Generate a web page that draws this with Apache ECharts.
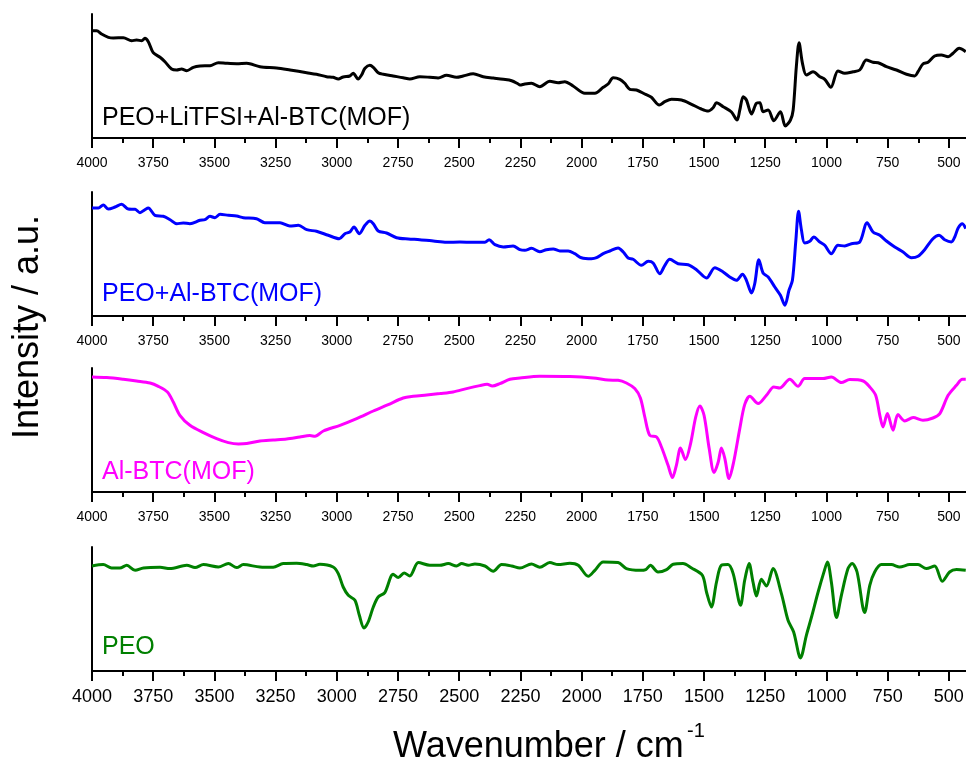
<!DOCTYPE html>
<html>
<head>
<meta charset="utf-8">
<script src="https://cdn.jsdelivr.net/npm/echarts@6/dist/echarts.min.js"></script>
<style>html,body{margin:0;padding:0;background:#fff;}#chart{width:966px;height:763px;}</style>
</head>
<body>
<div id="chart"></div>
<script>
const FONT = '"Liberation Sans", Arial, Helvetica, sans-serif';

// Tick labels (wavenumber, cm^-1)
const xTicks = [4000, 3750, 3500, 3250, 3000, 2750, 2500, 2250, 2000, 1750, 1500, 1250, 1000, 750, 500];
const xMinorTicks = [3875, 3625, 3375, 3125, 2875, 2625, 2375, 2125, 1875, 1625, 1375, 1125, 875, 625];

// Panel labels
const names = ['PEO+LiTFSI+Al-BTC(MOF)', 'PEO+Al-BTC(MOF)', 'Al-BTC(MOF)', 'PEO'];

// Spectra: [wavenumber, intensity (a.u.)]
const peoLiTFSIMOF = [[4000,107.3],[3981,107.3],[3961,104],[3933,100.7],[3913,100],[3872,100.3],[3838,97.3],[3818,98],[3797,97.3],[3784,99.7],[3770,96.3],[3750,85.3],[3722,80.7],[3702,76.3],[3675,69],[3654,68],[3634,69],[3613,67.3],[3586,70.7],[3559,72],[3518,72.3],[3484,75.3],[3450,74.7],[3409,74.3],[3368,74.7],[3314,71.3],[3246,70],[3191,68],[3123,65.3],[3083,63.7],[3042,61.3],[3015,60.7],[2994,59],[2974,61],[2947,62],[2933,64.7],[2913,59],[2899,63],[2885,69.7],[2865,72.7],[2851,70.7],[2831,65.3],[2810,63.7],[2770,62],[2729,60.3],[2702,59],[2661,61.3],[2620,60.7],[2586,60],[2552,62.7],[2511,60.7],[2484,62],[2443,64.3],[2402,61.3],[2361,60],[2320,58.7],[2286,57.3],[2259,54],
[2252,53],[2232,54],[2205,54.7],[2171,51.3],[2130,56.7],[2096,55.3],[2069,56.3],[2035,52],[1987,44.7],[1946,44.7],[1912,50.7],[1892,54],[1871,60.3],[1844,58.7],[1824,54.7],[1803,48.7],[1776,48],[1742,44],[1715,40.7],[1683,33],[1660,36.3],[1633,38.7],[1592,38],[1551,33.7],[1511,29],[1483,27],[1463,30.3],[1449,35.3],[1422,31.3],[1388,26],[1365,18],[1354,28],[1340,41.3],[1327,38],[1306,24],[1286,34.7],[1272,35.3],[1259,26.3],[1238,28],[1215,17.3],[1188,26.3],[1168,12],[1147,18],[1136,28],[1123,71.3],[1112,95.3],[1098,74.7],[1082,63],[1055,66.3],[1027,61.3],[1007,58.7],[982,50.7],[953,67],[925,64.7],[891,66.3],[864,68],[837,78],[810,75.7],[789,75.3],[755,71.3],[714,68],[673,63.7],[639,62],[626,66.3],[606,74],[585,75.7],[558,82],[531,83],[503,81.3],[483,84.7],[458,89.7],[431,86.3]];

const peoMOF = [[4000,108],[3974,108],[3954,111],[3933,107],[3906,109],[3879,111.7],[3852,107],[3824,106.7],[3804,103.3],[3784,106.3],[3770,108],[3743,100.7],[3709,99.7],[3681,96.3],[3654,92.3],[3627,93],[3600,92.3],[3559,95.7],[3539,96.3],[3518,99.7],[3498,98.3],[3477,101.7],[3443,100.7],[3409,100],[3382,98.3],[3328,97.3],[3294,93.3],[3232,93.3],[3192,90],[3157,90.7],[3123,86.3],[3083,84.7],[3035,80.7],[2990,77.3],[2967,82.3],[2947,84],[2930,89],[2908,82.3],[2885,90.7],[2865,95],[2851,92.3],[2831,85],[2797,83],[2756,78.3],[2708,77],[2661,76.3],[2606,75],[2552,73.7],[2497,74],[2443,73.7],[2395,73.7],[2378,76.3],[2354,71.3],[2320,69],[2280,70],
[2252,66.3],[2232,65.7],[2205,67.7],[2171,64.3],[2144,66.3],[2116,67],[2089,65],[2055,65],[2028,62.3],[2001,58.3],[1960,57.3],[1939,58.3],[1912,62.3],[1885,65],[1851,68],[1830,64],[1810,58],[1790,56.7],[1756,50.7],[1728,54.7],[1708,53],[1681,42.3],[1660,50.7],[1640,56.7],[1606,52.3],[1565,51.3],[1531,46.3],[1490,38],[1456,48.3],[1422,44],[1395,39],[1368,35.7],[1343,41.7],[1327,35.7],[1306,23],[1293,32.3],[1276,56.3],[1259,43],[1238,39],[1211,29],[1188,20.7],[1170,10.7],[1153,25.7],[1139,35.7],[1125,75.7],[1114,104.7],[1102,85.7],[1089,73],[1068,74.7],[1052,79],[1027,74],[1007,70.7],[980,62.3],[953,70.7],[925,70],[898,72.3],[864,74],[834,93.3],[810,84],[782,80.7],[755,75],[721,69],[687,64],[653,58.3],[626,59.7],[599,66.3],[565,77.3],[540,80.7],[517,76.3],[490,74],[476,79],[462,88],[445,92.3],[431,87.3]];

const alBTC = [[4000,115],[3940,114.4],[3872,112.7],[3818,111],[3763,109],[3729,105.7],[3692,100],[3668,90],[3641,76.7],[3600,66.7],[3545,59.4],[3491,53.4],[3443,49.4],[3402,48],[3368,48.4],[3314,51],[3260,52],[3205,53],[3151,55],[3110,56.4],[3089,55.7],[3055,61],[2987,66.7],[2919,73.4],[2851,81],[2790,87.4],[2729,94],[2688,95.7],[2633,97],[2579,98.4],[2525,100],[2470,103.4],[2416,106.4],[2386,107.7],[2365,106],[2334,108.4],[2293,112.7],
[2252,114],[2171,115.7],[2048,115.4],[1953,114],[1892,112],[1851,111.7],[1817,109],[1783,103.4],[1760,94],[1742,75],[1722,56.7],[1694,55],[1674,45],[1647,26.7],[1629,14.4],[1613,26.7],[1596,44],[1576,32.4],[1555,48.4],[1534,75],[1517,86],[1500,76.7],[1479,43.4],[1459,19.4],[1442,30],[1429,44],[1415,33.4],[1398,13.4],[1379,30],[1354,63.4],[1334,87.4],[1313,95.7],[1279,88.4],[1245,96.7],[1215,105],[1191,104],[1150,112.7],[1116,105.7],[1089,113.4],[1055,113.4],[1014,113.4],[980,115],[939,109.4],[905,112.4],[850,111],[823,105],[799,96.7],[782,76.7],[769,65],[751,78.4],[728,61.7],[708,77.4],[680,71],[646,74.4],[606,71.7],[565,74],[537,78.4],[503,96.7],[469,106.7],[445,112.7],[431,112.7]];

const peo = [[4000,105],[3954,106.4],[3920,103],[3886,103],[3858,105.7],[3824,100.7],[3790,103],[3722,103.7],[3682,102.4],[3613,105.7],[3579,103.4],[3545,106.4],[3484,104],[3443,107.4],[3409,103.4],[3382,106.4],[3314,104],[3260,103.7],[3219,107.4],[3164,107.7],[3123,106.4],[3096,105],[3069,106.7],[3015,104],[2994,97.4],[2974,84],[2953,75.7],[2926,70.7],[2908,55.7],[2889,43],[2872,49],[2851,64],[2831,74],[2804,78.4],[2770,96.7],[2749,93.4],[2725,98],[2702,95],[2667,108.4],[2620,105.7],[2579,105.7],[2545,107.4],[2511,105],[2490,107.4],[2463,105.7],[2436,107],[2395,105],[2361,99.7],[2327,106.4],[2286,105],
[2252,103],[2205,107],[2171,103.7],[2130,108.4],[2096,106.4],[2048,107.7],[2014,105.7],[1973,94.7],[1946,100.7],[1912,109],[1851,108.4],[1817,102.4],[1762,100.7],[1738,101.4],[1719,105.7],[1688,99],[1653,101.4],[1626,106.7],[1586,107.4],[1551,103],[1507,95.7],[1490,79],[1470,64],[1449,89],[1429,105.7],[1402,106.4],[1381,97.4],[1351,65.7],[1334,90.7],[1316,107.4],[1300,89],[1286,75],[1266,91.7],[1245,85],[1218,102.4],[1184,77.4],[1157,50.7],[1134,39],[1106,13],[1082,35.7],[1061,54],[1034,79],[1011,98.4],[996,109],[980,89],[959,53.4],[939,75.7],[912,102.4],[895,107.4],[875,99],[844,58.4],[823,85.7],[803,99],[776,106.4],[735,106.4],[701,104],[660,106.4],[626,106.4],[592,102.4],[558,105],[527,89.7],[497,99],[469,101.4],[431,100.7]];

const seriesData = [peoLiTFSIMOF, peoMOF, alBTC, peo];
const colors = ['#000000', '#0000FF', '#FF00FF', '#008000'];

// layout (pixels)
const gridTops = [14, 192, 368, 547];
const gridH = 124;
const labelCenters = [118, 294, 472, 647];

const grids = [], xAxes = [], yAxes = [], series = [], graphics = [];
for (let i = 0; i < 4; i++) {
  grids.push({ left: 92, width: 874, top: gridTops[i], height: gridH, containLabel: false, outerBoundsMode: 'none' });
  const big = i === 3;
  xAxes.push({
    gridIndex: i, type: 'value', min: 430, max: 4000, inverse: true, position: 'bottom',
    axisLine: { show: true, onZero: false, lineStyle: { color: '#000', width: 2 } },
    axisTick: { show: true, customValues: xTicks, length: 10, inside: false, lineStyle: { color: '#000', width: 2 } },
    axisLabel: { show: true, customValues: xTicks, formatter: v => String(v), color: '#000', fontSize: big ? 18 : 14, fontFamily: FONT, margin: big ? 17 : 18, showMinLabel: true, showMaxLabel: true },
    splitLine: { show: false }
  });
  xAxes.push({
    gridIndex: i, type: 'value', min: 430, max: 4000, inverse: true, position: 'bottom', offset: 0,
    axisLine: { show: false, onZero: false },
    axisTick: { show: true, customValues: xMinorTicks, length: 5, inside: false, lineStyle: { color: '#000', width: 2 } },
    axisLabel: { show: false },
    splitLine: { show: false }
  });
  yAxes.push({
    gridIndex: i, type: 'value', min: 0, max: gridH, position: 'left',
    axisLine: { show: true, onZero: false, lineStyle: { color: '#000', width: 2 } },
    axisTick: { show: false }, axisLabel: { show: false }, splitLine: { show: false }
  });
  series.push({
    name: names[i], type: 'line', xAxisIndex: i * 2, yAxisIndex: i,
    data: seriesData[i], showSymbol: false, symbol: 'none', smooth: 0.3,
    lineStyle: { color: colors[i], width: 3 }, itemStyle: { color: colors[i] },
    silent: true
  });
  graphics.push({
    type: 'text', x: 102, y: labelCenters[i], silent: true,
    style: { text: names[i], fontSize: 25, fontFamily: FONT, fill: colors[i], align: 'left', verticalAlign: 'middle' }
  });
}

graphics.push({
  type: 'text', x: 28, y: 327, rotation: Math.PI / 2, silent: true,
  style: { text: 'Intensity / a.u.', fontSize: 36, fontFamily: FONT, fill: '#000', align: 'center', verticalAlign: 'middle' }
});
graphics.push({
  type: 'text', x: 393, y: 747, silent: true,
  style: { text: 'Wavenumber / cm', fontSize: 36, fontFamily: FONT, fill: '#000', align: 'left', verticalAlign: 'middle' }
});
graphics.push({
  type: 'text', x: 687, y: 731, silent: true,
  style: { text: '-1', fontSize: 20, fontFamily: FONT, fill: '#000', align: 'left', verticalAlign: 'middle' }
});

const chart = echarts.init(document.getElementById('chart'), null, { renderer: 'canvas' });
chart.setOption({
  animation: false,
  backgroundColor: '#ffffff',
  textStyle: { fontFamily: FONT },
  grid: grids,
  xAxis: xAxes,
  yAxis: yAxes,
  series: series,
  graphic: graphics
});
</script>
</body>
</html>
